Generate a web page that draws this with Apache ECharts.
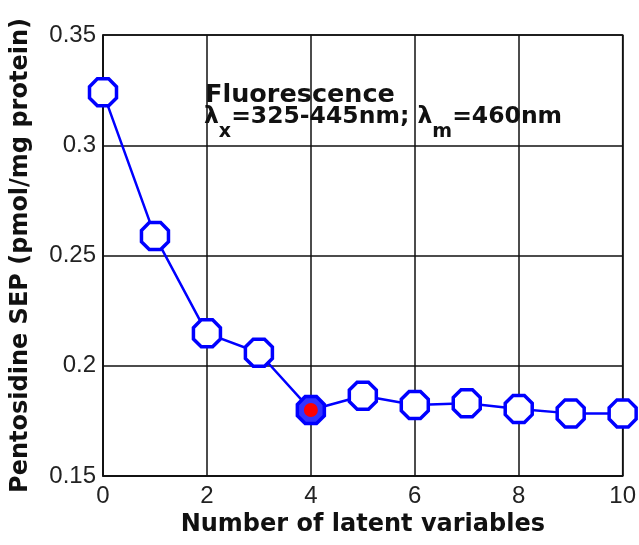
<!DOCTYPE html>
<html>
<head>
<meta charset="utf-8">
<script src="https://cdn.jsdelivr.net/npm/echarts@6/dist/echarts.min.js"></script>
<style>html,body{margin:0;padding:0;background:#fff;}#c{width:639px;height:545px;}</style>
</head>
<body>
<div id="c"></div>
<script>
const latentVariables = [0, 1, 2, 3, 4, 5, 6, 7, 8, 9, 10];
const sepValues = [0.324, 0.2588, 0.2147, 0.2059, 0.1799, 0.1864, 0.1822, 0.1830, 0.1804, 0.1784, 0.1784];
const optimumIndex = 4;
const xTicks = [0, 2, 4, 6, 8, 10];
const yTicks = [0.15, 0.2, 0.25, 0.3, 0.35];

const octagon = 'path://M29,0 L71,0 L100,29 L100,71 L71,100 L29,100 L0,71 L0,29 Z';
const chart = echarts.init(document.getElementById('c'), null, {renderer: 'canvas'});
const lineData = latentVariables.map((x, i) => [x, sepValues[i]]);
const optData = [[latentVariables[optimumIndex], sepValues[optimumIndex]]];

chart.setOption({
  animation: false,
  backgroundColor: '#ffffff',
  grid: {left: 103, right: 13, top: 35, bottom: 69, show: true, borderColor: '#111', borderWidth: 1.5, backgroundColor: 'transparent'},
  xAxis: {
    type: 'value', min: xTicks[0], max: xTicks[xTicks.length - 1], interval: 2,
    name: 'Number of latent variables', nameLocation: 'middle', nameGap: 33,
    nameTextStyle: {fontFamily: 'DejaVu Sans', fontWeight: 'bold', fontSize: 24, color: '#111'},
    axisLine: {show: true, lineStyle: {color: '#111', width: 1.5}},
    axisTick: {show: false},
    splitLine: {show: true, lineStyle: {color: '#111', width: 1.5}},
    axisLabel: {fontFamily: 'Liberation Sans', fontSize: 24, color: '#222', margin: 8}
  },
  yAxis: {
    type: 'value', min: yTicks[0], max: yTicks[yTicks.length - 1], interval: 0.05,
    name: 'Pentosidine SEP (pmol/mg protein)', nameLocation: 'middle', nameGap: 70, nameRotate: 90,
    nameTextStyle: {fontFamily: 'DejaVu Sans', fontWeight: 'bold', fontSize: 24, color: '#111'},
    axisLine: {show: true, lineStyle: {color: '#111', width: 1.5}},
    axisTick: {show: false},
    splitLine: {show: true, lineStyle: {color: '#111', width: 1.5}},
    axisLabel: {fontFamily: 'Liberation Sans', fontSize: 24, color: '#222', margin: 7,
      formatter: v => String(+(+v).toFixed(2))}
  },
  series: [
    {
      type: 'line', data: lineData, symbol: octagon, symbolSize: 27,
      lineStyle: {color: '#0000ff', width: 2.5},
      itemStyle: {color: '#ffffff', borderColor: '#0000ff', borderWidth: 3.5},
      z: 3
    },
    {
      type: 'scatter', data: optData, symbol: octagon, symbolSize: 25,
      itemStyle: {color: '#0000ff', borderColor: '#0000ff', borderWidth: 1}, z: 4
    },
    {
      type: 'scatter', data: optData, symbol: 'circle', symbolSize: 14,
      itemStyle: {color: '#ff0000', opacity: 1}, z: 5
    }
  ],
  graphic: [
    {type: 'text', left: 205, top: 82, z: 10,
      style: {text: 'Fluorescence', fontFamily: 'DejaVu Sans', fontWeight: 'bold', fontSize: 25.5, fill: '#111'}},
    {type: 'text', left: 204, top: 105, z: 10,
      style: {
        text: '{m|λ}{s|x}{m|=325-445nm; λ}{s|m}{m|=460nm}',
        fill: '#111',
        rich: {
          m: {fontFamily: 'DejaVu Sans', fontWeight: 'bold', fontSize: 23.5, lineHeight: 24, verticalAlign: 'top', fill: '#111'},
          s: {fontFamily: 'DejaVu Sans', fontWeight: 'bold', fontSize: 19, lineHeight: 54, verticalAlign: 'middle', fill: '#111'}
        }
      }}
  ]
});
</script>
</body>
</html>
